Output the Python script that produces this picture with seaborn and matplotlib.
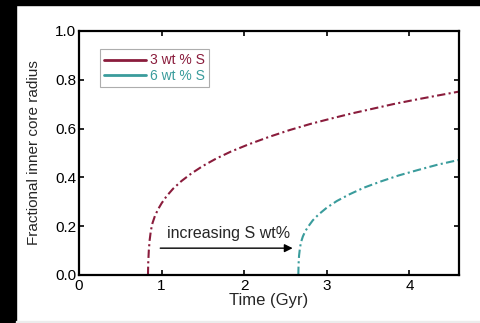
import matplotlib
matplotlib.use("Agg")
import matplotlib.pyplot as plt
import pandas as pd
import seaborn as sns
from matplotlib.lines import Line2D
from matplotlib.patches import Rectangle

# values
time_3wt = [0.835, 0.838, 0.845, 0.855, 0.87, 0.89, 0.92, 0.96, 1.00, 1.06, 1.14, 1.24,
            1.36, 1.50, 1.66, 1.84, 2.05, 2.30, 2.55, 2.80, 3.05, 3.30, 3.55, 3.80,
            4.05, 4.30, 4.59]
radius_3wt = [0.0, 0.05, 0.10, 0.142, 0.182, 0.213, 0.243, 0.271, 0.294, 0.323, 0.354,
              0.385, 0.416, 0.447, 0.477, 0.506, 0.535, 0.566, 0.594, 0.619, 0.641,
              0.662, 0.681, 0.70, 0.717, 0.733, 0.751]
time_6wt = [2.655, 2.658, 2.664, 2.675, 2.69, 2.71, 2.74, 2.78, 2.83, 2.90, 3.00,
            3.12, 3.27, 3.45, 3.65, 3.87, 4.10, 4.34, 4.59]
radius_6wt = [0.0, 0.045, 0.08, 0.112, 0.137, 0.158, 0.18, 0.201, 0.224, 0.248, 0.276,
              0.303, 0.33, 0.358, 0.383, 0.408, 0.43, 0.452, 0.471]
labels = ["3 wt % S", "6 wt % S"]
colors = ["#8a1c3c", "#3a9c9c"]

df = pd.concat([
    pd.DataFrame({"t": time_3wt, "r": radius_3wt, "S": labels[0]}),
    pd.DataFrame({"t": time_6wt, "r": radius_6wt, "S": labels[1]}),
])

sns.set_style("ticks")
plt.rcParams['font.family'] = ['Liberation Sans', 'DejaVu Sans']

fig = plt.figure(figsize=(4.8, 3.23), dpi=100)
fig.patch.set_facecolor("white")
# black frame strips of the scanned figure
fig.patches.append(Rectangle((0, 0), 16 / 480, 1, transform=fig.transFigure,
                             color="black", zorder=0))
fig.patches.append(Rectangle((0, 1 - 5 / 323), 1, 5 / 323, transform=fig.transFigure,
                             color="black", zorder=0))
fig.patches.append(Rectangle((16 / 480, 0), 1, 2 / 323, transform=fig.transFigure,
                             color="#ececec", zorder=0))

ax = fig.add_axes([79 / 480, 48 / 323, 380 / 480, 244 / 323])
sns.lineplot(data=df, x="t", y="r", hue="S", style="S", palette=colors,
             dashes=[(4, 1.6, 1, 1.6), (4, 1.6, 1, 1.6)], linewidth=1.5,
             estimator=None, sort=False, legend=False, ax=ax)

ax.set_xlim(0, 4.6)
ax.set_ylim(0, 1.0)
ax.set_xticks([0, 1, 2, 3, 4])
ax.set_yticks([0, 0.2, 0.4, 0.6, 0.8, 1.0])
ax.set_yticklabels(["0.0", "0.2", "0.4", "0.6", "0.8", "1.0"])
ax.tick_params(direction="in", top=True, right=True, length=3.5, width=1.2,
               labelsize=11, pad=2, colors="black")
ax.tick_params(axis="x", pad=3)
for s in ax.spines.values():
    s.set_visible(True)
    s.set_linewidth(1.6)
    s.set_color("black")
ax.set_xlabel("Time (Gyr)", fontsize=12, labelpad=0)
ax.set_ylabel("Fractional inner core radius", fontsize=11, labelpad=10)

ax.annotate("", xy=(2.62, 0.11), xytext=(0.95, 0.11),
            arrowprops=dict(arrowstyle="-|>", color="black", lw=1.0,
                            mutation_scale=12))
ax.text(1.81, 0.17, "increasing S wt%", fontsize=11.5, ha="center", va="center")

handles = [Line2D([], [], color=c, lw=2) for c in colors]
leg = ax.legend(handles, labels, loc="upper left", bbox_to_anchor=(0.055, 0.925),
                fontsize=10, labelcolor=colors, frameon=True, fancybox=False,
                handlelength=3.0, handletextpad=0.3, labelspacing=0.1,
                borderpad=0.3, borderaxespad=0)
leg.get_frame().set_edgecolor("#999999")
leg.get_frame().set_linewidth(0.8)

fig.savefig("out.png", dpi=100)
